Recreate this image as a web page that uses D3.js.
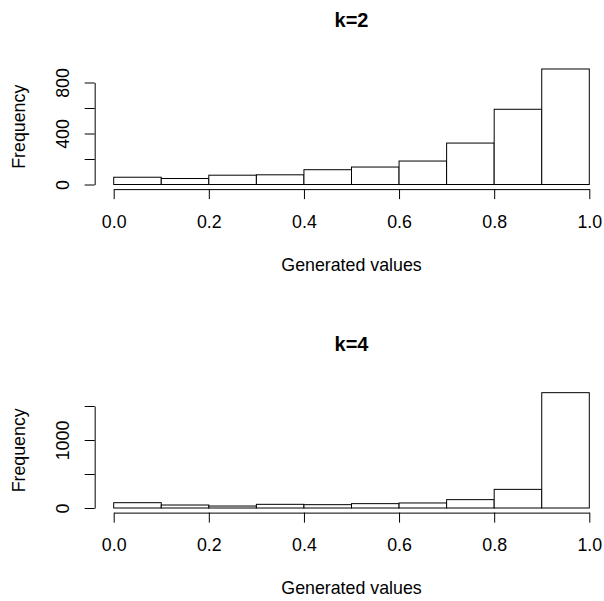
<!DOCTYPE html>
<html>
  <head>
    <style>
      body { margin: 0; background: #fff; overflow: hidden; }
      svg { display: block; font-family: "Liberation Sans", Arial, sans-serif; }
      .bar { fill: #fff; stroke: #000; stroke-width: 1; }
      .axis path, .axis line { stroke: #000; stroke-width: 1; }
      .axis text { font-size: 17.8px; fill: #000; font-family: "Liberation Sans", Arial, sans-serif; }
    </style>
  </head>
  <body>
    <script src="https://cdn.jsdelivr.net/npm/d3@7"></script>
    <div id="chart"></div>
    <script>
      // Bin edges shared by both histograms
      var binEdges = [0, 0.1, 0.2, 0.3, 0.4, 0.5, 0.6, 0.7, 0.8, 0.9, 1.0];
      var xTicks = [0, 0.2, 0.4, 0.6, 0.8, 1.0];

      // Counts per bin
      var countsK2 = [57, 47, 73, 76, 116, 137, 184, 325, 590, 906];
      var countsK4 = [78, 44, 29, 54, 49, 64, 74, 123, 274, 1696];

      var titles = ["k=2", "k=4"];
      var yTicksK2 = [0, 200, 400, 600, 800];
      var yLabelsK2 = [0, 400, 800];
      var yTicksK4 = [0, 500, 1000, 1500];
      var yLabelsK4 = [0, 1000];

      var panels = [
        {title: titles[0], counts: countsK2, ticks: yTicksK2, labels: yLabelsK2, off: 0},
        {title: titles[1], counts: countsK4, ticks: yTicksK4, labels: yLabelsK4, off: 323.5}
      ];

      var width = 604, height = 601;

      var svg = d3.select("#chart")
        .append("svg")
          .attr("width", width)
          .attr("height", height);

      // x scale: 0..1 maps onto the data range, same for both panels
      var x = d3.scaleLinear().domain([0, 1]).range([113.7, 589.3]);

      panels.forEach(function(p) {
        var topTick = p.ticks[p.ticks.length - 1];
        var y = d3.scaleLinear()
          .domain([0, topTick])
          .range([184.5 + p.off, 82.5 + p.off]);

        var maxCount = d3.max(p.counts);
        var axisY = y(-0.04 * maxCount);
        var axisX = x(-0.04);

        var g = svg.append("g");

        // bars
        g.selectAll(".bar")
            .data(p.counts)
          .enter().append("rect")
            .attr("class", "bar")
            .attr("x", function(d, i) { return x(binEdges[i]); })
            .attr("width", function(d, i) { return x(binEdges[i + 1]) - x(binEdges[i]); })
            .attr("y", function(d) { return y(d); })
            .attr("height", function(d) { return y(0) - y(d); });

        // x axis
        g.append("g")
            .attr("class", "axis")
            .attr("transform", "translate(0," + axisY + ")")
            .call(d3.axisBottom(x).tickValues(xTicks).tickSize(10).tickSizeOuter(0)
              .tickFormat(d3.format(".1f")))
          .selectAll("text")
            .attr("y", 32.6)
            .attr("dy", "0.35em");

        // y axis
        var yAxis = g.append("g")
            .attr("class", "axis")
            .attr("transform", "translate(" + axisX + ",0)")
            .call(d3.axisLeft(y).tickValues(p.ticks).tickSize(10).tickSizeOuter(0)
              .tickFormat(function(d) { return p.labels.indexOf(d) >= 0 ? d : ""; }));
        yAxis.selectAll("text")
            .attr("x", 0)
            .attr("dy", "0.35em")
            .attr("text-anchor", "middle")
            .attr("transform", "translate(-32.3,0) rotate(-90)");

        // title
        g.append("text")
            .attr("x", (x(0) + x(1)) / 2)
            .attr("y", 27.3 + p.off)
            .attr("text-anchor", "middle")
            .style("font-size", "20px")
            .style("font-weight", "bold")
            .text(p.title);

        // x label
        g.append("text")
            .attr("x", (x(0) + x(1)) / 2)
            .attr("y", 270.7 + p.off)
            .attr("text-anchor", "middle")
            .style("font-size", "17.8px")
            .text("Generated values");

        // y label
        g.append("text")
            .attr("transform", "translate(18.3," + ((axisY + y(1.04 * maxCount)) / 2) + ") rotate(-90)")
            .attr("dy", "0.35em")
            .attr("text-anchor", "middle")
            .style("font-size", "17.8px")
            .text("Frequency");
      });
    </script>
  </body>
</html>
